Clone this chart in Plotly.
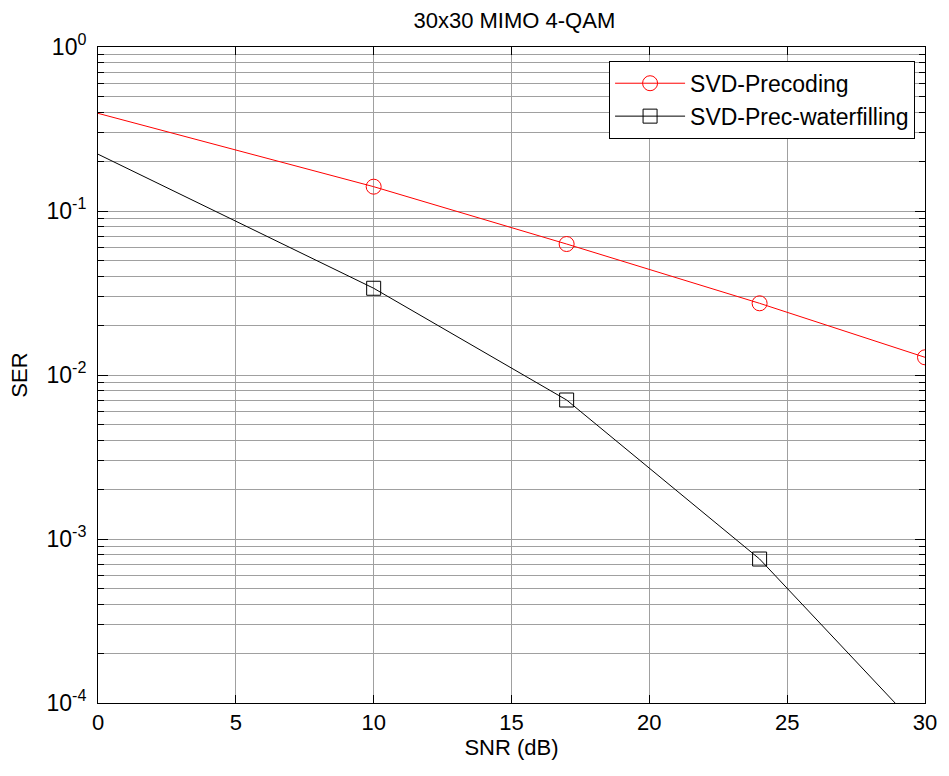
import plotly.graph_objects as go

snr = [0, 10, 17, 24, 30]
ser_svd = [0.394, 0.1407, 0.0629, 0.02736, 0.01282]
ser_wf = [0.222, 0.0338, 0.00704, 0.000755, 0.000064]

ytick_vals = [1e-4, 1e-3, 1e-2, 1e-1, 1e0]
ytick_text = ["10<sup>-4</sup>", "10<sup>-3</sup>", "10<sup>-2</sup>", "10<sup>-1</sup>", "10<sup>0</sup>"]
xtick_vals = [0, 5, 10, 15, 20, 25, 30]

FONT = "Liberation Sans, Arial, sans-serif"
GRID = "#a0a0a0"

fig = go.Figure()
# line-only parts (incl. first point without marker)
fig.add_trace(go.Scatter(x=snr[:2], y=ser_svd[:2], mode="lines", line=dict(color="red", width=1),
                         showlegend=False, hoverinfo="skip"))
fig.add_trace(go.Scatter(x=snr[:2], y=ser_wf[:2], mode="lines", line=dict(color="black", width=1),
                         showlegend=False, hoverinfo="skip"))
# marked parts
fig.add_trace(go.Scatter(x=snr[1:], y=ser_svd[1:], mode="lines+markers", name="SVD-Precoding",
                         line=dict(color="red", width=1),
                         marker=dict(symbol="circle-open", size=15, color="red", line=dict(width=1, color="red"))))
fig.add_trace(go.Scatter(x=snr[1:], y=ser_wf[1:], mode="lines+markers", name="SVD-Prec-waterfilling",
                         line=dict(color="black", width=1),
                         marker=dict(symbol="square-open", size=14, color="black", line=dict(width=1, color="black"))))

fig.update_layout(
    width=949, height=776,
    margin=dict(l=98, r=18, t=47, b=73),
    paper_bgcolor="white", plot_bgcolor="white",
    font=dict(family=FONT, size=22, color="black"),
    title=dict(text="30x30 MIMO 4-QAM", x=0.542, xanchor="center", y=1 - 20 / 776, yanchor="middle",
               font=dict(size=22)),
    legend=dict(x=0.988, xanchor="right", y=0.979, yanchor="top",
                bgcolor="white", bordercolor="black", borderwidth=1,
                font=dict(size=23), itemwidth=70, tracegroupgap=0),
    showlegend=True,
)
fig.update_xaxes(
    range=[0, 30], tickvals=xtick_vals, ticks="inside", ticklen=8, tickcolor="black",
    showline=True, linecolor="black", linewidth=1, mirror="ticks",
    showgrid=True, gridcolor=GRID, gridwidth=1, zeroline=False,
    title=dict(text="SNR (dB)", standoff=4, font=dict(size=22)),
    tickfont=dict(size=22),
)
fig.update_yaxes(
    type="log", range=[-4, 0], tickvals=ytick_vals, ticktext=ytick_text,
    ticks="inside", ticklen=10, tickcolor="black",
    showline=True, linecolor="black", linewidth=1, mirror="ticks",
    showgrid=True, gridcolor=GRID, gridwidth=1, zeroline=False,
    minor=dict(dtick="D1", ticks="inside", ticklen=6, tickcolor="black", showgrid=True,
               gridcolor=GRID, gridwidth=1),
    title=dict(text="SER", standoff=12, font=dict(size=22)),
    tickfont=dict(size=23), ticklabelstandoff=6,
)

fig.write_html("out.html")
